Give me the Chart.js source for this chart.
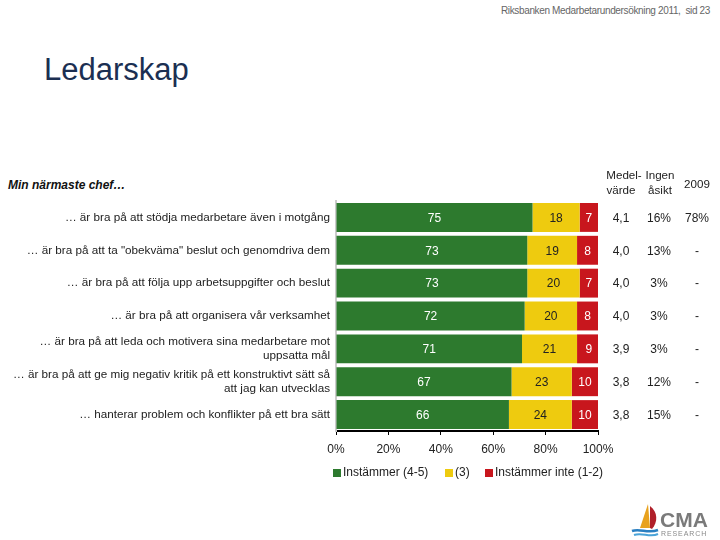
<!DOCTYPE html>
<html>
<head>
<meta charset="utf-8">
<script src="https://cdn.jsdelivr.net/npm/chart.js@4.4.1/dist/chart.umd.min.js"></script>
<style>
  html,body{margin:0;padding:0;background:#fff;}
  body{width:720px;height:540px;position:relative;overflow:hidden;font-family:"Liberation Sans",Arial,sans-serif;}
  #hdr{position:absolute;right:10px;top:5px;font-size:10px;color:#666;letter-spacing:-0.35px;}
  #title{position:absolute;left:44px;top:52px;font-size:31px;color:#1b2f52;}
  #sub{position:absolute;left:8px;top:178px;font-size:12px;font-weight:bold;font-style:italic;color:#111;}
  #wrap{position:absolute;left:0;top:0;width:720px;height:540px;}
  #logo{position:absolute;left:628px;top:500px;width:90px;height:40px;}
</style>
</head>
<body>
<div id="hdr">Riksbanken Medarbetarundersökning 2011,&nbsp; sid 23</div>
<div id="title">Ledarskap</div>
<div id="sub">Min närmaste chef…</div>
<div id="wrap"><canvas id="c" width="720" height="540"></canvas></div>
<svg id="logo" viewBox="0 0 90 40">
  <path d="M20 4 L12 28 L22 28 Z" fill="#e8a21e"/>
  <path d="M22 6 C30 12 30 22 24 29 L22 28 Z" fill="#b0202a"/>
  <path d="M4 31 C12 28 20 34 30 30" stroke="#2a7fc1" stroke-width="2.5" fill="none"/>
  <path d="M6 35 C14 32 22 38 30 34" stroke="#4aa3d8" stroke-width="2" fill="none"/>
  <text x="32" y="27" font-family="Liberation Sans, Arial" font-weight="bold" font-size="21" fill="#7a7a7a">CMA</text>
  <text x="33" y="36" font-family="Liberation Sans, Arial" font-size="7" fill="#8a8a8a" letter-spacing="0.9">RESEARCH</text>
</svg>
<script>
const categories = [
  "… är bra på att stödja medarbetare även i motgång",
  "… är bra på att ta \"obekväma\" beslut och genomdriva dem",
  "… är bra på att följa upp arbetsuppgifter och beslut",
  "… är bra på att organisera vår verksamhet",
  ["… är bra på att leda och motivera sina medarbetare mot", "uppsatta mål"],
  ["… är bra på att ge mig negativ kritik på ett konstruktivt sätt så", "att jag kan utvecklas"],
  "… hanterar problem och konflikter på ett bra sätt"
];
const seriesNames = ["Instämmer (4-5)", "(3)", "Instämmer inte (1-2)"];
const agree = [75, 73, 73, 72, 71, 67, 66];
const neutral = [18, 19, 20, 20, 21, 23, 24];
const disagree = [7, 8, 7, 8, 9, 10, 10];
const meanValues = ["4,1", "4,0", "4,0", "4,0", "3,9", "3,8", "3,8"];
const noOpinion = ["16%", "13%", "3%", "3%", "3%", "12%", "15%"];
const y2009 = ["78%", "-", "-", "-", "-", "-", "-"];
const xTicks = ["0%", "20%", "40%", "60%", "80%", "100%"];

const colors = ["#2d7a2e", "#eecb0f", "#c8161d"];
const labelColors = ["#ffffff", "#222222", "#ffffff"];
const FONT = "'Liberation Sans', Arial, sans-serif";

const extras = {
  id: "extras",
  afterDatasetsDraw(chart) {
    const ctx = chart.ctx;
    ctx.save();
    ctx.font = "12px " + FONT;
    ctx.textAlign = "center";
    ctx.textBaseline = "middle";
    chart.data.datasets.forEach((ds, di) => {
      const meta = chart.getDatasetMeta(di);
      meta.data.forEach((bar, i) => {
        const cx = (bar.x + bar.base) / 2;
        ctx.fillStyle = labelColors[di];
        ctx.fillText(String(ds.data[i]), cx, bar.y + 1);
      });
    });
    const ys = chart.scales.y;
    ctx.fillStyle = "#222";
    for (let i = 0; i < categories.length; i++) {
      const y = ys.getPixelForValue(i) + 1;
      ctx.fillText(meanValues[i], 621, y);
      ctx.fillText(noOpinion[i], 659, y);
      ctx.fillText(y2009[i], 697, y);
    }
    // column headers
    ctx.font = "11.6px " + FONT;
    ctx.fillText("Medel-", 624, 176);
    ctx.fillText("värde", 621, 191);
    ctx.fillText("Ingen", 660, 176);
    ctx.fillText("åsikt", 660, 191);
    ctx.fillText("2009", 697, 185);
    // legend
    ctx.font = "12px " + FONT;
    ctx.textAlign = "left";
    const lx = [333, 445, 485];
    seriesNames.forEach((n, k) => {
      ctx.fillStyle = colors[k];
      ctx.fillRect(lx[k], 469, 8, 8);
      ctx.fillStyle = "#222";
      ctx.fillText(n, lx[k] + 10, 473);
    });
    ctx.restore();
  }
};

new Chart(document.getElementById("c"), {
  type: "bar",
  data: {
    labels: categories,
    datasets: [
      { label: seriesNames[0], data: agree, backgroundColor: colors[0] },
      { label: seriesNames[1], data: neutral, backgroundColor: colors[1] },
      { label: seriesNames[2], data: disagree, backgroundColor: colors[2] }
    ]
  },
  options: {
    indexAxis: "y",
    responsive: false,
    animation: false,
    events: [],
    layout: { padding: { left: 0, top: 201, right: 122, bottom: 79 } },
    datasets: { bar: { barPercentage: 0.88, categoryPercentage: 1.0, borderWidth: 0 } },
    plugins: { legend: { display: false }, tooltip: { enabled: false } },
    scales: {
      x: {
        stacked: true, min: 0, max: 100,
        ticks: { stepSize: 20, color: "#222", font: { size: 12, family: FONT }, padding: 7,
                 callback: (v, i) => xTicks[i] },
        grid: { display: true, drawOnChartArea: false, drawTicks: true, tickLength: 4, color: "#000" },
        border: { display: true, color: "#000", width: 2 },
        afterFit: s => { s.height = 30; }
      },
      y: {
        stacked: true,
        ticks: { color: "#222", font: { size: 11.7, family: FONT, lineHeight: 1.25 }, padding: 6, autoSkip: false },
        grid: { display: false, drawTicks: false },
        border: { display: true, color: "#cccccc", width: 2 },
        afterFit: s => { s.width = 336; }
      }
    }
  },
  plugins: [extras]
});
</script>
</body>
</html>
